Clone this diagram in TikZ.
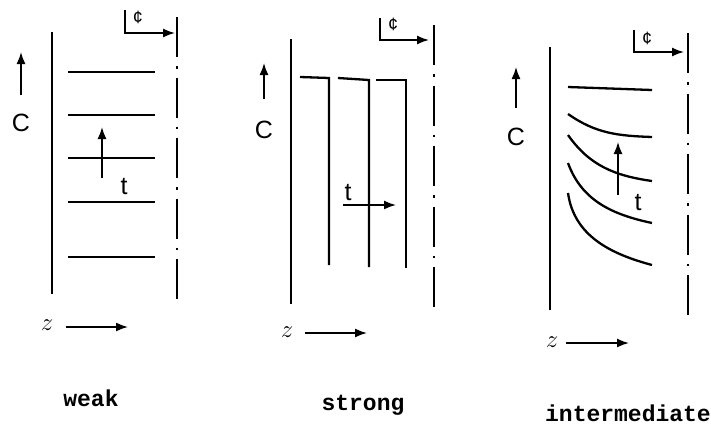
\documentclass[tikz,border=0pt]{standalone}
\usepackage{fontspec}
\usetikzlibrary{arrows.meta}
\newfontfamily\labfont{Liberation Sans}
\newfontfamily\capfont{Liberation Mono}

\begin{document}
\begin{tikzpicture}[x=1pt,y=-1pt,
    wall/.style={line width=1.8pt},
    prof/.style={line width=2.3pt},
    arr/.style={line width=1.6pt,-{Latex[length=12pt,width=9pt]}},
    cline/.style={line width=1.6pt,dash pattern=on 40pt off 9pt on 2.5pt off 9pt},
    lbl/.style={font=\labfont\fontsize{25}{27}\selectfont,inner sep=0pt},
    cent/.style={font=\labfont\fontsize{18}{20}\selectfont,inner sep=0pt},
    zlbl/.style={font=\fontsize{27}{29}\selectfont,inner sep=0pt},
    caption/.style={font=\capfont\bfseries\fontsize{23}{25}\selectfont,inner sep=0pt}]
    \useasboundingbox (0,0) rectangle (711,431);

    % ---------- weak ----------
    % 壁面与中心线
    \draw[wall] (52,32) -- (52,294);
    \draw[cline] (177,17) -- (177,307);
    % 中心线符号
    \coordinate (wkA) at (125,10);
    \coordinate (wkB) at (175,33);
    \draw[arr] (wkA) |- (wkB);
    \node[cent] (wkCl) at (138,17) {¢};
    % C 轴
    \coordinate (wkC0) at (21,95);
    \coordinate (wkC1) at (21,52);
    \draw[arr] (wkC0) -- (wkC1);
    \node[lbl] (wkC) at (21,123) {C};
    % 浓度分布
    \foreach \y in {72,115,158,202,257}
        \draw[prof] (68,\y) -- (155,\y);
    % 时间方向
    \coordinate (wkT0) at (102,178);
    \coordinate (wkT1) at (102,127);
    \draw[arr] (wkT0) -- (wkT1);
    \node[lbl] (wkT) at (124,187) {t};
    % z 轴
    \node[zlbl] (wkZ) at (47,325) {$z$};
    \coordinate (wkZ1) at (128,327);
    \draw[arr] (66,327) -- (wkZ1);
    \node[caption] (wkName) at (91,398) {weak};

    % ---------- strong ----------
    % 壁面与中心线
    \draw[wall] (291,39) -- (291,304);
    \draw[cline] (434,25) -- (434,313);
    % 中心线符号
    \coordinate (stA) at (380,18);
    \coordinate (stB) at (429,40);
    \draw[arr] (stA) |- (stB);
    \node[cent] (stCl) at (393,24) {¢};
    % C 轴
    \coordinate (stC0) at (264,99);
    \coordinate (stC1) at (264,63);
    \draw[arr] (stC0) -- (stC1);
    \node[lbl] (stC) at (264,130) {C};
    % 浓度分布
    \draw[prof] (300,77) -- (329,78) -- (329,265);
    \draw[prof] (338,78) -- (369,80) -- (369,267);
    \draw[prof] (376,80) -- (406,80) -- (406,268);
    % 时间方向
    \coordinate (stT0) at (343,205);
    \coordinate (stT1) at (396,205);
    \draw[arr] (stT0) -- (stT1);
    \node[lbl] (stT) at (348,193) {t};
    % z 轴
    \node[zlbl] (stZ) at (287,332) {$z$};
    \coordinate (stZ1) at (367,333);
    \draw[arr] (305,333) -- (stZ1);
    \node[caption] (stName) at (363,405) {strong};

    % ---------- intermediate ----------
    % 壁面与中心线
    \draw[wall] (550,47) -- (550,310);
    \draw[cline] (688,33) -- (688,323);
    % 中心线符号
    \coordinate (imA) at (634,30);
    \coordinate (imB) at (684,52);
    \draw[arr] (imA) |- (imB);
    \node[cent] (imCl) at (647,38) {¢};
    % C 轴
    \coordinate (imC0) at (516,108);
    \coordinate (imC1) at (516,67);
    \draw[arr] (imC0) -- (imC1);
    \node[lbl] (imC) at (516,137) {C};
    % 浓度分布
    \draw[prof] (568,87) -- (652,90);
    \draw[prof] (568,114) to[out=-35,in=178] (652,137);
    \draw[prof] (568,135) to[out=-55,in=172] (652,181);
    \draw[prof] (568,163) to[out=-70,in=168] (652,223);
    \draw[prof] (568,193) to[out=-82,in=165] (652,265);
    % 时间方向
    \coordinate (imT0) at (618,195);
    \coordinate (imT1) at (618,142);
    \draw[arr] (imT0) -- (imT1);
    \node[lbl] (imT) at (638,203) {t};
    % z 轴
    \node[zlbl] (imZ) at (552,342) {$z$};
    \coordinate (imZ1) at (629,343);
    \draw[arr] (566,343) -- (imZ1);
    \node[caption] (imName) at (628,413) {intermediate};
\end{tikzpicture}
\end{document}
